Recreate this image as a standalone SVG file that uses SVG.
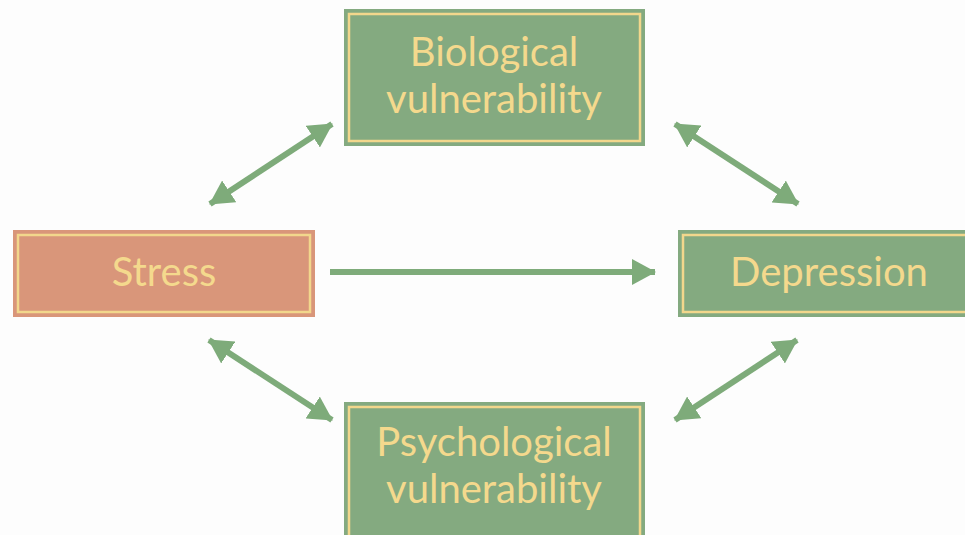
<svg xmlns="http://www.w3.org/2000/svg" width="965" height="535" viewBox="0 0 965 535">
<defs>
<style>
.box{stroke:none}
.green{fill:#84AA80}
.orange{fill:#D9967A}
.inner{fill:none;stroke:#F2D78C;stroke-width:2.5}
.lbl{font-family:Lato,"Open Sans",sans-serif;font-size:40px;fill:#F4D98D;text-anchor:middle}
.conn{stroke:#7EAB7A;stroke-width:6;fill:none}
</style>
<marker id="ah" markerUnits="userSpaceOnUse" markerWidth="26" markerHeight="26" refX="23" refY="13" orient="auto-start-reverse" viewBox="0 0 26 26">
<path d="M0,0 L24,13 L0,26 z" fill="#7EAB7A"/>
</marker>
</defs>
<rect width="965" height="535" fill="#FDFDFD"/>
<g id="connectors">
<line class="conn" x1="330" y1="272" x2="655" y2="272" marker-end="url(#ah)"/>
<line class="conn" x1="210" y1="204" x2="332" y2="124" marker-start="url(#ah)" marker-end="url(#ah)"/>
<line class="conn" x1="675" y1="124" x2="798" y2="204" marker-start="url(#ah)" marker-end="url(#ah)"/>
<line class="conn" x1="209" y1="340" x2="332" y2="420" marker-start="url(#ah)" marker-end="url(#ah)"/>
<line class="conn" x1="797" y1="340" x2="675" y2="420" marker-start="url(#ah)" marker-end="url(#ah)"/>
</g>
<g id="biological">
<rect class="box green" x="344" y="9" width="301" height="137"/>
<rect class="inner" x="349" y="14" width="291" height="127"/>
<text class="lbl" x="494" y="66">Biological</text>
<text class="lbl" x="494" y="113">vulnerability</text>
</g>
<g id="stress">
<rect class="box orange" x="13" y="230" width="302" height="87"/>
<rect class="inner" x="18" y="235" width="292" height="77"/>
<text class="lbl" x="164" y="286">Stress</text>
</g>
<g id="depression">
<rect class="box green" x="678" y="230" width="300" height="87"/>
<rect class="inner" x="683" y="235" width="290" height="77"/>
<text class="lbl" x="829" y="286">Depression</text>
</g>
<g id="psychological">
<rect class="box green" x="344" y="402" width="301" height="145"/>
<rect class="inner" x="349" y="407" width="291" height="135"/>
<text class="lbl" x="494" y="456">Psychological</text>
<text class="lbl" x="494" y="503">vulnerability</text>
</g>
</svg>
